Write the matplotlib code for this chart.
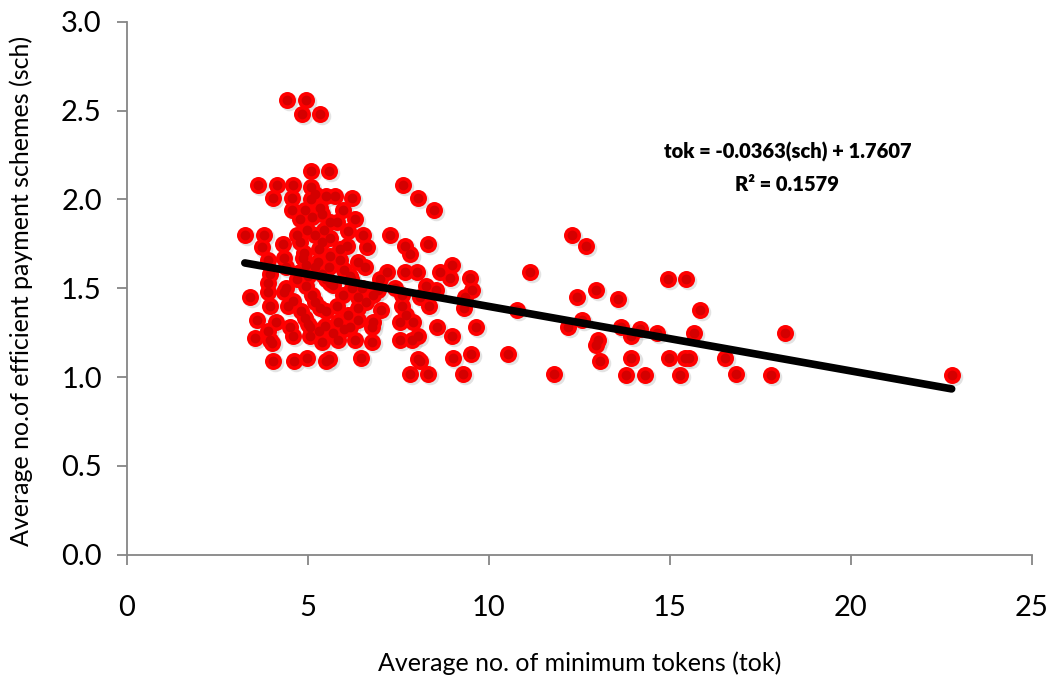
import numpy as np
import matplotlib
matplotlib.use("Agg")
import matplotlib.pyplot as plt

plt.rcParams['font.family'] = ['Lato', 'DejaVu Sans']

# average minimum tokens (tok) vs average efficient payment schemes (sch)
tok = [
    4.42, 4.94, 4.83, 5.33,
    5.08, 5.58,
    3.62, 4.14, 4.59, 5.08, 7.62,
    4.03, 4.56, 5.19, 5.50, 5.75, 6.22, 8.04,
    4.56, 4.92, 5.33, 5.97, 8.48,
    4.78, 5.11, 5.61, 6.30,
    4.99, 5.44, 6.10, 6.52,
    3.26, 3.78, 7.27, 12.29,
    3.73, 4.31, 4.78, 5.39, 6.08, 6.63, 7.68, 8.31, 12.68,
    3.90, 4.34, 4.86, 5.28, 5.88, 6.38, 7.82,
    4.94, 5.58, 6.58, 11.13, 8.98,
    3.95, 4.78, 5.39, 6.16, 7.18, 7.68, 8.01, 8.65, 9.48, 8.92, 14.94, 15.44,
    4.39, 4.94, 5.61, 6.22, 6.93, 7.40, 8.26, 8.54, 9.53, 12.96,
    3.90, 4.34, 5.11, 5.97, 8.09, 9.34, 3.40, 12.44, 13.56,
    3.95, 4.45, 5.33, 6.38, 7.02, 7.60, 8.34, 9.31, 10.77, 15.83,
    3.59, 4.12, 4.92, 5.83, 6.80, 7.54, 7.90, 12.57,
    4.50, 5.06, 5.47, 6.16, 6.77, 8.56, 9.64, 12.18, 13.65, 14.17, 14.64, 15.66, 18.18,
    4.59, 5.06, 5.83, 3.95, 8.04, 8.98, 13.01, 13.94,
    5.39, 6.30, 6.77, 7.54, 7.87, 12.96,
    3.54, 4.01,
    4.97, 5.58, 6.46, 8.04, 9.00, 9.50, 10.52, 13.94, 14.99, 15.41, 15.52, 16.52,
    4.03, 4.61, 5.50, 8.09, 13.07,
    7.82, 8.31, 9.28, 11.80, 13.79, 14.31, 15.28, 16.82, 17.79, 22.79,
    4.70, 5.00, 5.20, 5.50, 5.70, 6.00, 6.20, 6.40, 6.60, 5.20, 5.50, 5.80,
    6.10, 6.40, 4.80, 5.00, 5.30, 5.70, 6.00, 4.90, 5.30, 5.60, 5.90, 5.20,
    5.60, 5.40, 5.80, 6.50, 6.80, 7.60, 7.70, 7.00, 3.90, 3.90, 4.60, 4.40,
    4.70, 5.10,
]
sch = [
    2.56, 2.56, 2.48, 2.48,
    2.16, 2.16,
    2.08, 2.08, 2.08, 2.07, 2.08,
    2.01, 2.01, 2.03, 2.02, 2.02, 2.01, 2.01,
    1.94, 1.94, 1.95, 1.94, 1.94,
    1.89, 1.90, 1.87, 1.89,
    1.83, 1.83, 1.82, 1.80,
    1.80, 1.80, 1.80, 1.80,
    1.73, 1.75, 1.76, 1.76, 1.74, 1.73, 1.74, 1.75, 1.74,
    1.66, 1.67, 1.67, 1.65, 1.66, 1.65, 1.69,
    1.63, 1.62, 1.62, 1.59, 1.63,
    1.58, 1.59, 1.58, 1.57, 1.59, 1.59, 1.59, 1.59, 1.56, 1.56, 1.55, 1.55,
    1.50, 1.51, 1.53, 1.50, 1.49, 1.50, 1.51, 1.49, 1.49, 1.49,
    1.48, 1.48, 1.46, 1.46, 1.45, 1.45, 1.45, 1.45, 1.44,
    1.40, 1.40, 1.39, 1.39, 1.38, 1.40, 1.40, 1.39, 1.38, 1.38,
    1.32, 1.31, 1.33, 1.31, 1.31, 1.31, 1.31, 1.32,
    1.28, 1.28, 1.29, 1.28, 1.28, 1.28, 1.28, 1.28, 1.28, 1.27, 1.25, 1.25, 1.25,
    1.23, 1.23, 1.21, 1.21, 1.23, 1.23, 1.21, 1.23,
    1.20, 1.21, 1.20, 1.21, 1.21, 1.18,
    1.22, 1.19,
    1.11, 1.10, 1.11, 1.10, 1.11, 1.13, 1.13, 1.11, 1.11, 1.11, 1.11, 1.11,
    1.09, 1.09, 1.09, 1.09, 1.09,
    1.02, 1.02, 1.02, 1.02, 1.01, 1.01, 1.01, 1.02, 1.01, 1.01,
    1.55, 1.57, 1.62, 1.55, 1.52, 1.60, 1.55, 1.45, 1.42, 1.42, 1.37, 1.40,
    1.35, 1.32, 1.37, 1.30, 1.26, 1.25, 1.27, 1.70, 1.72, 1.68, 1.72, 1.80,
    1.78, 1.92, 1.87, 1.50, 1.46, 1.46, 1.35, 1.55, 1.53, 1.26, 1.43, 1.62,
    1.80, 2.00,
]

slope = -0.0363
intercept = 1.7607
r2 = 0.1579

x = np.array(tok)
y = np.array(sch)

fig = plt.figure(figsize=(10.57, 6.79), dpi=100)
ax = fig.add_axes([0.120, 0.183, 0.856, 0.785])

# soft shadow under each marker, then the marker itself
ax.scatter(x + 0.06, y - 0.012, s=160, color='#b0b0b0', alpha=0.35,
           linewidths=0, zorder=2)
ax.scatter(x, y, s=150, color='#ff0000', linewidths=0, zorder=3)
ax.scatter(x, y, s=50, color='#d40000', linewidths=0, zorder=4)

# linear trendline
xl = np.array([x.min(), x.max()])
ax.plot(xl, slope * xl + intercept, color='black', lw=5.5,
        solid_capstyle='round', zorder=5)

ax.text(0.73, 0.756, 'tok = %.4f(sch) + %.4f' % (slope, intercept),
        transform=ax.transAxes, ha='center', va='center',
        fontsize=14.5, fontweight='heavy')
ax.text(0.73, 0.694, 'R² = %.4f' % r2,
        transform=ax.transAxes, ha='center', va='center',
        fontsize=14.5, fontweight='heavy')

ax.set_xlim(0, 25)
ax.set_ylim(0, 3.0)
ax.set_xticks([0, 5, 10, 15, 20, 25])
ax.set_yticks(np.arange(0, 3.01, 0.5))
ax.set_yticklabels(['%.1f' % v for v in np.arange(0, 3.01, 0.5)])

for s in ['top', 'right']:
    ax.spines[s].set_visible(False)
for s in ['left', 'bottom']:
    ax.spines[s].set_color('#868686')
    ax.spines[s].set_linewidth(1.3)
ax.tick_params(direction='out', length=7, width=1.3, color='#868686',
               labelsize=21)
ax.tick_params(axis='y', pad=11)
ax.tick_params(axis='x', pad=22)

ax.set_xlabel('Average no. of minimum tokens (tok)', fontsize=18)
ax.set_ylabel('Average no.of efficient payment schemes (sch)', fontsize=18)
ax.xaxis.set_label_coords(0.5, -0.181)
ax.yaxis.set_label_coords(-0.104, 0.495)

fig.savefig('out.png', dpi=100)
